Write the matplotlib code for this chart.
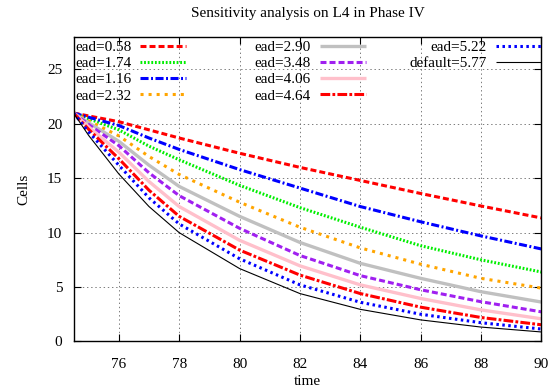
import matplotlib
matplotlib.use("Agg")
import matplotlib.pyplot as plt

plt.rcParams['font.family'] = ['Liberation Serif', 'DejaVu Serif']
plt.rcParams['font.size'] = 11
plt.rcParams['lines.scale_dashes'] = False

time = [74.5, 75, 76, 77, 78, 80, 82, 84, 86, 88, 90]

labels = ["ead=0.58", "ead=1.74", "ead=1.16", "ead=2.32",
          "ead=2.90", "ead=3.48", "ead=4.06", "ead=4.64",
          "ead=5.22", "default=5.77"]

ead_058 = [21, 20.73, 20.2, 19.45, 18.7, 17.3, 16.0, 14.8, 13.6, 12.45, 11.35]
ead_174 = [21, 20.47, 19.45, 17.95, 16.7, 14.35, 12.3, 10.5, 8.8, 7.5, 6.38]
ead_116 = [21, 20.61, 19.85, 18.7, 17.65, 15.8, 14.1, 12.4, 11.0, 9.7, 8.5]
ead_232 = [21, 20.28, 18.9, 17.0, 15.35, 12.8, 10.5, 8.6, 7.1, 5.8, 4.9]
ead_290 = [21, 20.1, 18.4, 16.2, 14.25, 11.5, 9.1, 7.18, 5.8, 4.57, 3.62]
ead_348 = [21, 19.95, 18.0, 15.5, 13.4, 10.4, 7.9, 6.05, 4.75, 3.65, 2.72]
ead_406 = [21, 19.72, 17.4, 14.7, 12.4, 9.3, 6.95, 5.2, 3.95, 2.9, 2.08]
ead_464 = [21, 19.5, 16.8, 13.9, 11.5, 8.4, 6.1, 4.4, 3.15, 2.2, 1.53]
ead_522 = [21, 19.26, 16.2, 13.2, 10.8, 7.6, 5.2, 3.6, 2.5, 1.72, 1.14]
default_577 = [21, 18.94, 15.4, 12.4, 10.0, 6.7, 4.4, 2.95, 1.98, 1.32, 0.87]

series = [ead_058, ead_174, ead_116, ead_232, ead_290,
          ead_348, ead_406, ead_464, ead_522, default_577]

styles = [
    dict(color='#ff0000', lw=2.2, ls=(0, (4.3, 2.2))),
    dict(color='#00ee00', lw=2.2, ls=(0, (1.3, 1.3))),
    dict(color='#0000ff', lw=2.2, ls=(0, (5.8, 1.8, 1.4, 1.8))),
    dict(color='#ffa500', lw=2.2, ls=(0, (2.2, 3.6))),
    dict(color='#c0c0c0', lw=2.4, ls='-'),
    dict(color='#a020f0', lw=2.2, ls=(0, (4.3, 2.2))),
    dict(color='#ffc0cb', lw=2.4, ls='-'),
    dict(color='#ff0000', lw=2.2, ls=(0, (7.0, 1.6, 2.0, 1.6))),
    dict(color='#0000ff', lw=2.2, ls=(0, (1.8, 2.5))),
    dict(color='#000000', lw=0.8, ls='-'),
]

fig = plt.figure(figsize=(5.57, 3.92), dpi=100)
ax = fig.add_axes([0.132, 0.129, 0.840, 0.777])

handles = []
for vals, st in zip(series, styles):
    h, = ax.plot(time, vals, color=st['color'], lw=st['lw'], linestyle=st['ls'],
                 solid_capstyle='butt', dash_capstyle='butt',
                 solid_joinstyle='round')
    handles.append(h)

ax.set_xlim(74.5, 90)
ax.set_ylim(0, 28)
ax.set_xticks([76, 78, 80, 82, 84, 86, 88, 90])
ax.set_yticks([0, 5, 10, 15, 20, 25])
ax.tick_params(direction='in', top=True, right=True, length=5, width=0.8)
ax.tick_params(axis='x', pad=12)
ax.tick_params(axis='y', pad=8)
ax.grid(True, color='#666666', lw=0.6, linestyle=(0, (1, 2)))
for sp in ax.spines.values():
    sp.set_linewidth(1.0)

ax.set_title("Sensitivity analysis on L4 in Phase IV", fontsize=11, pad=14)
ax.set_xlabel("time", fontsize=11, labelpad=3)
ax.set_ylabel("Cells", fontsize=11, labelpad=12)

common = dict(frameon=False, markerfirst=False, handlelength=3.0,
              handletextpad=0.6, labelspacing=0.16, borderpad=0.0,
              borderaxespad=0.0, fontsize=11)

leg1 = ax.legend(handles[0:4], labels[0:4], loc='upper left',
                 bbox_to_anchor=(0.003, 0.988), **common)
ax.add_artist(leg1)
leg2 = ax.legend(handles[4:8], labels[4:8], loc='upper right',
                 bbox_to_anchor=(0.625, 0.988), **common)
ax.add_artist(leg2)
leg3 = ax.legend(handles[8:10], labels[8:10], loc='upper right',
                 bbox_to_anchor=(1.0, 0.988), **common)

fig.savefig("out.png", dpi=100)
